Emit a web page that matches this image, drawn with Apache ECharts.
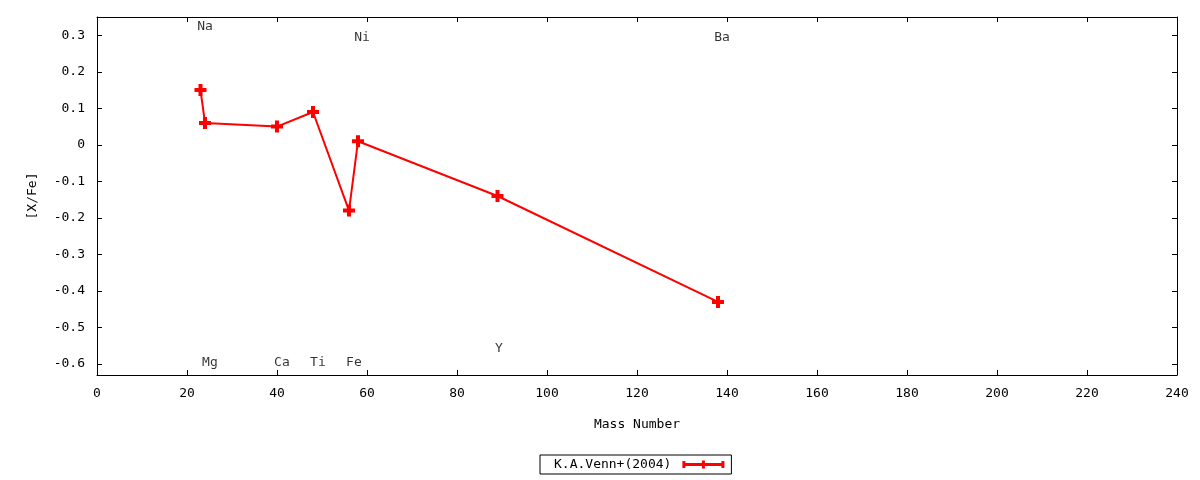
<!DOCTYPE html>
<html><head><meta charset="utf-8">
<script src="https://cdn.jsdelivr.net/npm/echarts@6/dist/echarts.min.js"></script>
<style>html,body{margin:0;padding:0;background:#fff}#c{width:1200px;height:480px}</style>
</head><body><div id="c"></div>
<script>
// Data
const massNumbers = [23, 24, 40, 48, 56, 58, 89, 138];
const xFeValues   = [0.15, 0.06, 0.05, 0.09, -0.18, 0.01, -0.14, -0.43];
const elementNames = ['Na', 'Mg', 'Ca', 'Ti', 'Fe', 'Ni', 'Y', 'Ba'];
const labelX = [24, 25.1, 41.1, 49.1, 57.1, 58.9, 89.3, 138.9];
const labelY = [0.323, -0.597, -0.597, -0.597, -0.597, 0.293, -0.559, 0.293];
const xTicks = [0, 20, 40, 60, 80, 100, 120, 140, 160, 180, 200, 220, 240];
const yTicks = [-0.6, -0.5, -0.4, -0.3, -0.2, -0.1, 0, 0.1, 0.2, 0.3];
const seriesName = 'K.A.Venn+(2004)';

const FONT = 'DejaVu Sans Mono';
const plus = 'path://M-1,-3 L1,-3 L1,-1 L3,-1 L3,1 L1,1 L1,3 L-1,3 L-1,1 L-3,1 L-3,-1 L-1,-1 Z';
const legendIcon = 'path://M0,3 L42,3 L42,6 L0,6 Z M0,1 L3,1 L3,8 L0,8 Z M39,1 L42,1 L42,8 L39,8 Z M19.5,0.5 L22.5,0.5 L22.5,8.5 L19.5,8.5 Z M17,3 L25,3 L25,6 L17,6 Z M0,0 L0.01,0 L0.01,9 L0,9 Z';

const chart = echarts.init(document.getElementById('c'));
const axisLine = {show: true, onZero: false, lineStyle: {color: '#000', width: 1}};
const tickStyle = {inside: true, length: 5, lineStyle: {color: '#000'}};
chart.setOption({
  animation: false,
  backgroundColor: '#fff',
  textStyle: {fontFamily: FONT},
  grid: {left: 97, right: 23, top: 17, bottom: 105},
  legend: {
    data: [seriesName], left: 540, top: 455,
    borderColor: '#000', borderWidth: 1, borderRadius: 0,
    padding: [3, 7, 3, 14], align: 'right',
    itemWidth: 42, itemHeight: 9,
    icon: legendIcon,
    textStyle: {fontFamily: FONT, fontSize: 13, color: '#000', padding: [0, 6, 0, 0]}
  },
  xAxis: [{
    type: 'value', min: 0, max: 240, interval: 20,
    name: 'Mass Number', nameLocation: 'middle', nameGap: 43,
    nameTextStyle: {fontFamily: FONT, fontSize: 13, color: '#000'},
    axisLine: axisLine, splitLine: {show: false},
    axisTick: Object.assign({customValues: xTicks}, tickStyle),
    axisLabel: {customValues: xTicks, margin: 12, fontFamily: FONT, fontSize: 13, color: '#000'}
  }, {
    type: 'value', position: 'top', min: 0, max: 240, interval: 20,
    axisLine: axisLine, splitLine: {show: false},
    axisTick: Object.assign({customValues: xTicks}, tickStyle),
    axisLabel: {show: false}
  }],
  yAxis: [{
    type: 'value', min: -0.63, max: 0.35,
    name: '[X/Fe]', nameLocation: 'middle', nameGap: 58, nameRotate: 90,
    nameTextStyle: {fontFamily: FONT, fontSize: 13, color: '#000'},
    axisLine: axisLine, splitLine: {show: false},
    axisTick: Object.assign({customValues: yTicks}, tickStyle),
    axisLabel: {customValues: yTicks, margin: 12, fontFamily: FONT, fontSize: 13, color: '#000',
      formatter: v => String(Math.round(v * 10) / 10)}
  }, {
    type: 'value', position: 'right', min: -0.63, max: 0.35,
    axisLine: axisLine, splitLine: {show: false},
    axisTick: Object.assign({customValues: yTicks}, tickStyle),
    axisLabel: {show: false}
  }],
  series: [{
    name: seriesName, type: 'line',
    data: massNumbers.map((m, i) => [m, xFeValues[i]]),
    symbol: plus, symbolSize: 12, showAllSymbol: true,
    lineStyle: {color: '#ff0000', width: 2},
    itemStyle: {color: '#ff0000'}
  }, {
    name: 'labels', type: 'scatter', silent: true,
    symbolSize: 1, itemStyle: {color: 'rgba(0,0,0,0)'},
    data: elementNames.map((n, i) => ({name: n, value: [labelX[i], labelY[i]]})),
    label: {show: true, position: 'inside', formatter: p => p.name,
      fontFamily: FONT, fontSize: 13, color: '#000'}
  }]
});
</script></body></html>
